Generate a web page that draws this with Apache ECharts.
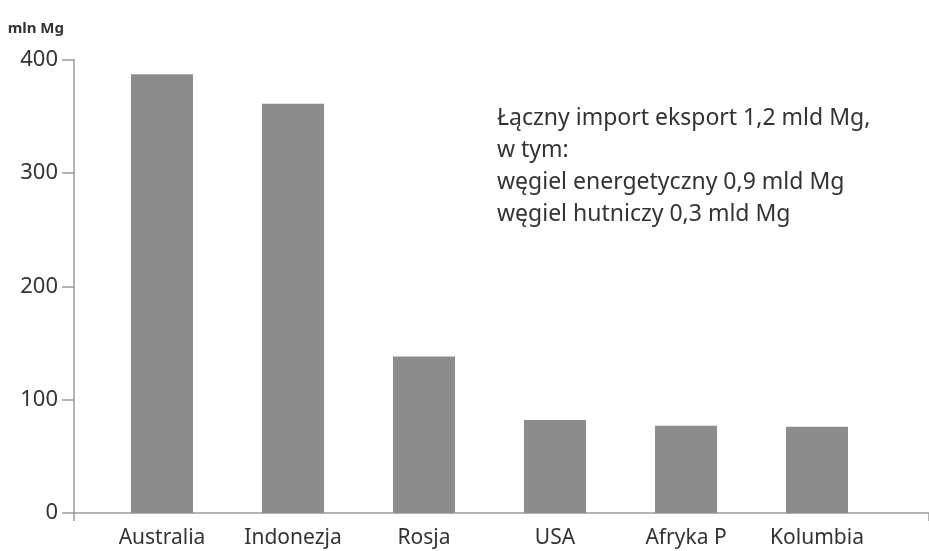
<!DOCTYPE html>
<html lang="pl">

<head>
    <meta charset="UTF-8">
    <meta name="viewport" content="width=device-width, initial-scale=1.0">
    <title>Eksporterzy węgla</title>
    <script type="text/javascript" src="https://cdn.jsdelivr.net/npm/echarts@6/dist/echarts.min.js"></script>
    <style>
        html, body { margin: 0; padding: 0; background: #fff; }
    </style>
</head>

<body>
    <div id="main" style="width: 929px;height:551px;"></div>
    <script>
        // dane
        var countries = ['Australia', 'Indonezja', 'Rosja', 'USA', 'Afryka P', 'Kolumbia'];
        var exportMln = [387, 361, 138, 82, 77, 76];
        var yTicks = { min: 0, max: 400, interval: 100 };
        var noteLines = [
            'Łączny import eksport 1,2 mld Mg,',
            'w tym:',
            'węgiel energetyczny 0,9 mld Mg',
            'węgiel hutniczy 0,3 mld Mg'
        ];

        var font = '"Noto Sans", sans-serif';
        var axisColor = '#9a9a9a';
        var textColor = '#333';

        var myChart = echarts.init(document.getElementById('main'));

        myChart.setOption({
            animation: false,
            textStyle: { fontFamily: font },
            grid: [
                // oś Y i linia osi X
                { left: 74, right: 0, top: 59.5, bottom: 38 },
                // słupki
                { left: 96.5, right: 46.5, top: 59.5, bottom: 38 }
            ],
            xAxis: [
                {
                    type: 'value', gridIndex: 0, min: 0, max: 1, interval: 1,
                    axisLine: { show: true, lineStyle: { color: axisColor, width: 1.5 } },
                    axisTick: { show: true, length: 8, lineStyle: { color: axisColor, width: 1.5 } },
                    axisLabel: { show: false },
                    splitLine: { show: false }
                },
                {
                    type: 'category', gridIndex: 1, data: countries,
                    axisLine: { show: false },
                    axisTick: { show: false },
                    axisLabel: { color: textColor, fontSize: 21, margin: 15, fontFamily: font }
                }
            ],
            yAxis: [
                {
                    type: 'value', gridIndex: 0,
                    min: yTicks.min, max: yTicks.max, interval: yTicks.interval,
                    name: 'mln Mg',
                    nameLocation: 'end',
                    nameGap: 23,
                    nameTextStyle: { color: textColor, fontSize: 15, fontWeight: 'bold', align: 'right', padding: [0, 10, 0, 0] },
                    axisLine: { show: true, lineStyle: { color: axisColor, width: 1.5 } },
                    axisTick: { show: true, length: 12, lineStyle: { color: axisColor, width: 1.5 } },
                    axisLabel: { color: textColor, fontSize: 22, margin: 16 },
                    splitLine: { show: false }
                },
                {
                    type: 'value', gridIndex: 1,
                    min: yTicks.min, max: yTicks.max, interval: yTicks.interval,
                    show: false
                }
            ],
            graphic: [{
                type: 'text',
                left: 497,
                top: 102,
                style: {
                    text: noteLines.join('\n'),
                    fill: textColor,
                    font: '23px ' + font,
                    lineHeight: 32
                }
            }],
            series: [{
                type: 'bar',
                xAxisIndex: 1,
                yAxisIndex: 1,
                data: exportMln,
                barWidth: 62,
                itemStyle: { color: '#8c8c8c' }
            }]
        });
    </script>
</body>

</html>
